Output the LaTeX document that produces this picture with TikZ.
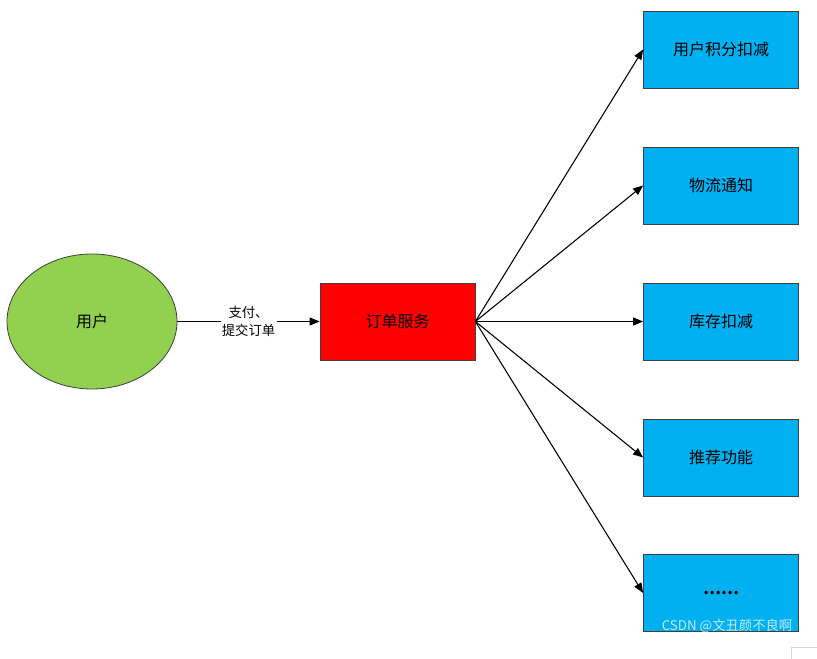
\documentclass[tikz,border=0pt]{standalone}
\usepackage{fontspec}
\setmainfont{Noto Sans CJK SC}
\usetikzlibrary{shapes.geometric,arrows.meta}
\definecolor{userg}{HTML}{92D050}
\definecolor{boxblue}{HTML}{00B0F0}
\definecolor{edgegray}{HTML}{404040}
\tikzset{
  bluebox/.style={draw=edgegray, line width=0.6pt, fill=boxblue, minimum width=116.25pt, minimum height=57.75pt, inner sep=0pt, font=\fontsize{12}{14}\selectfont},
  redbox/.style={draw=edgegray, line width=0.6pt, fill=red, minimum width=116.25pt, minimum height=57.75pt, inner sep=0pt, font=\fontsize{12}{14}\selectfont},
  userell/.style={ellipse, draw=edgegray, line width=0.6pt, fill=userg, minimum width=127.5pt, minimum height=101.25pt, inner sep=0pt, font=\fontsize{12}{14}\selectfont},
  conn/.style={-{Triangle[length=7.5pt,width=6pt]}, line width=0.8pt, black},
  lbl/.style={fill=white, inner sep=1pt, align=center, font=\fontsize{10}{13.5}\selectfont}
}
\begin{document}
\begin{tikzpicture}[x=0.75pt,y=-0.75pt]
\useasboundingbox (0,0) rectangle (817,659);
\node[userell] (user) at (92,321.5) {用户};
\node[redbox] (order) at (397.5,321.5) {订单服务};
\node[bluebox] (b1) at (721,49.5) {用户积分扣减};
\node[bluebox] (b2) at (721,185.5) {物流通知};
\node[bluebox] (b3) at (721,321.5) {库存扣减};
\node[bluebox] (b4) at (721,457.5) {推荐功能};
\node[bluebox] (b5) at (721,593) {\textbf{……}};
\draw[conn] (user.east) -- node[lbl] {支付、\\提交订单} (order.west);
\foreach \b in {b1,b2,b3,b4,b5}{
  \draw[conn] (order.east) -- (\b.west);
}
\node[text=white, opacity=0.75, font=\fontsize{10}{12}\selectfont] (wm) at (727,626) {CSDN @文丑颜不良啊};
\draw[black!15, line width=0.6pt] (791,659) -- (791,647) -- (817,647);
\end{tikzpicture}
\end{document}
